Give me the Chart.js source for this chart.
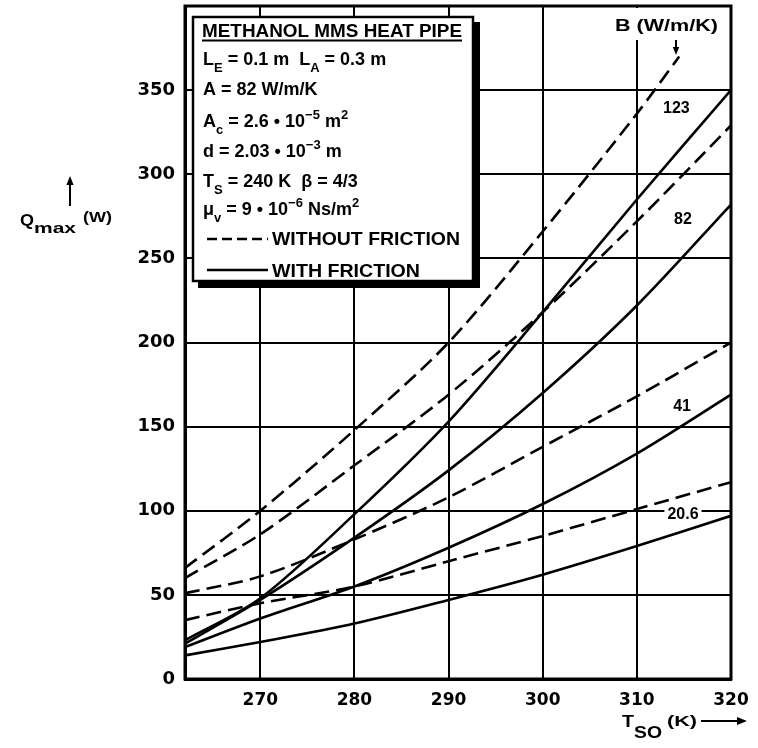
<!DOCTYPE html>
<html>
<head>
<meta charset="utf-8">
<script src="https://cdn.jsdelivr.net/npm/chart.js@4/dist/chart.umd.min.js"></script>
<style>
  html, body { margin: 0; padding: 0; background: #fff; }
  canvas { display: block; }
</style>
</head>
<body>
<canvas id="chart" width="758" height="748"></canvas>
<script>
// Axis ticks
const tempTicks = [270, 280, 290, 300, 310, 320];
const powerTicks = [0, 50, 100, 150, 200, 250, 300, 350, 400];

// Vapour-side temperature T_SO (K) at which the curves are sampled
const tSo = [262, 270, 280, 290, 300, 310, 320];
const tSo123Ideal = [262, 270, 280, 290, 300, 310, 314.5];

// Q_max (W) for each conductance B, without (ideal) and with vapour friction
const q123Ideal    = [66, 100, 148, 200, 266, 336, 370];
const q123Friction = [23, 48, 98, 153, 218, 285, 350];
const q82Ideal     = [60, 86, 127, 169, 218, 272, 329];
const q82Friction  = [21, 47, 84, 124, 170, 222, 282];
const q41Ideal     = [51, 61, 83, 108, 138, 168, 200];
const q41Friction  = [19, 36, 55, 78, 104, 134, 169];
const q20Ideal     = [35, 45, 55, 70, 85, 101, 117];
const q20Friction  = [14, 22, 33, 47, 62, 79, 97];

const bLabels = ['123', '82', '41', '20.6'];
// where each B label sits, in (T_SO, Q_max) units
const bLabelAt = [[314.2, 339], [314.9, 273], [314.8, 162], [314.9, 98]];

const FONT = '"Liberation Sans", Arial, Helvetica, sans-serif';
const DASH = [15, 7];

function curve(xs, ys, dashed) {
  return {
    data: xs.map((x, i) => ({ x: x, y: ys[i] })),
    borderColor: '#000',
    borderWidth: 2.6,
    borderDash: dashed ? DASH : [],
    pointRadius: 0,
    tension: 0.3,
    fill: false
  };
}

// Text made of normal / subscript / superscript runs, left-aligned at baseline y
function richText(ctx, x, y, parts, size) {
  let cx = x;
  for (const [t, m] of parts) {
    const s = m === 'n' ? size : Math.round(size * 0.72);
    ctx.font = 'bold ' + s + 'px ' + FONT;
    const dy = m === 'sub' ? size * 0.38 : (m === 'sup' ? -size * 0.42 : 0);
    ctx.fillText(t, cx, y + dy);
    cx += ctx.measureText(t).width;
  }
  return cx;
}

// Text squeezed or stretched horizontally to a given width
function fitText(ctx, text, x, y, width, size) {
  ctx.font = 'bold ' + size + 'px ' + FONT;
  const w = ctx.measureText(text).width;
  ctx.save();
  ctx.translate(x, y);
  ctx.scale(width / w, 1);
  ctx.fillText(text, 0, 0);
  ctx.restore();
}

function arrow(ctx, x1, y1, x2, y2, head) {
  const a = Math.atan2(y2 - y1, x2 - x1);
  ctx.beginPath();
  ctx.moveTo(x1, y1);
  ctx.lineTo(x2 - Math.cos(a) * head * 0.8, y2 - Math.sin(a) * head * 0.8);
  ctx.stroke();
  ctx.beginPath();
  ctx.moveTo(x2, y2);
  ctx.lineTo(x2 - Math.cos(a) * head + Math.sin(a) * head * 0.4, y2 - Math.sin(a) * head - Math.cos(a) * head * 0.4);
  ctx.lineTo(x2 - Math.cos(a) * head - Math.sin(a) * head * 0.4, y2 - Math.sin(a) * head + Math.cos(a) * head * 0.4);
  ctx.closePath();
  ctx.fill();
}

const decor = {
  id: 'decor',
  beforeDatasetsDraw(chart) {
    const ctx = chart.ctx;
    const xs = chart.scales.x, ys = chart.scales.y;
    ctx.save();
    // header for the B labels, on a white patch over the grid
    ctx.fillStyle = '#fff';
    ctx.fillRect(606, 8, 120, 32);
    ctx.fillStyle = '#000';
    ctx.textBaseline = 'alphabetic';
    fitText(ctx, 'B (W/m/K)', 615, 31, 103, 16);
    ctx.strokeStyle = '#000';
    ctx.lineWidth = 2;
    arrow(ctx, 676, 40, 676, 55, 8);

    // B value next to each pair of curves
    ctx.font = 'bold 16px ' + FONT;
    ctx.textAlign = 'center';
    ctx.textBaseline = 'middle';
    bLabels.forEach((t, i) => {
      const px = xs.getPixelForValue(bLabelAt[i][0]);
      const py = ys.getPixelForValue(bLabelAt[i][1]);
      const w = ctx.measureText(t).width;
      ctx.fillStyle = '#fff';
      ctx.fillRect(px - w / 2 - 3, py - 8, w + 6, 16);
      ctx.fillStyle = '#000';
      ctx.fillText(t, px, py);
    });
    ctx.restore();
  },
  afterDraw(chart) {
    const ctx = chart.ctx;
    const a = chart.chartArea;
    ctx.save();
    ctx.strokeStyle = '#000';
    ctx.fillStyle = '#000';

    // plot frame
    ctx.lineWidth = 3;
    ctx.strokeRect(a.left, a.top, a.right - a.left, a.bottom - a.top);

    // parameter box with its drop shadow
    const bx = 193, by = 17, bw = 280, bh = 264;
    ctx.fillRect(bx + 5, by + 5, bw + 2, bh + 2);
    ctx.fillStyle = '#fff';
    ctx.fillRect(bx, by, bw, bh);
    ctx.lineWidth = 2.5;
    ctx.strokeRect(bx, by, bw, bh);
    ctx.fillStyle = '#000';
    ctx.textAlign = 'left';
    ctx.textBaseline = 'alphabetic';

    fitText(ctx, 'METHANOL MMS HEAT PIPE', 202, 37, 260, 18);
    ctx.lineWidth = 2;
    ctx.beginPath();
    ctx.moveTo(202, 40.5);
    ctx.lineTo(462, 40.5);
    ctx.stroke();

    const S = 18;
    richText(ctx, 203, 65, [['L', 'n'], ['E', 'sub'], [' = 0.1 m  L', 'n'], ['A', 'sub'], [' = 0.3 m', 'n']], S);
    richText(ctx, 203, 95, [['A = 82 W/m/K', 'n']], S);
    richText(ctx, 203, 127, [['A', 'n'], ['c', 'sub'], [' = 2.6 \u2022 10', 'n'], ['\u22125', 'sup'], [' m', 'n'], ['2', 'sup']], S);
    richText(ctx, 203, 157, [['d = 2.03 \u2022 10', 'n'], ['\u22123', 'sup'], [' m', 'n']], S);
    richText(ctx, 203, 187, [['T', 'n'], ['S', 'sub'], [' = 240 K  \u03B2 = 4/3', 'n']], S);
    richText(ctx, 203, 215, [['\u03BC', 'n'], ['v', 'sub'], [' = 9 \u2022 10', 'n'], ['\u22126', 'sup'], [' Ns/m', 'n'], ['2', 'sup']], S);

    // line-style key
    ctx.lineWidth = 2.6;
    ctx.setLineDash([10, 5]);
    ctx.beginPath();
    ctx.moveTo(207, 239);
    ctx.lineTo(268, 239);
    ctx.stroke();
    ctx.setLineDash([]);
    ctx.beginPath();
    ctx.moveTo(207, 270);
    ctx.lineTo(268, 270);
    ctx.stroke();
    fitText(ctx, 'WITHOUT FRICTION', 272, 245, 188, 18);
    fitText(ctx, 'WITH FRICTION', 272, 277, 148, 18);

    // y axis title
    ctx.lineWidth = 2;
    arrow(ctx, 70, 206, 70, 176, 9);
    fitText(ctx, 'Q', 20, 226, 14, 17);
    fitText(ctx, 'max', 34, 233, 42, 15);
    fitText(ctx, '(W)', 83, 222, 29, 14);

    // x axis title
    fitText(ctx, 'T', 622, 727, 12, 17);
    fitText(ctx, 'SO', 634, 738, 28, 16);
    fitText(ctx, '(K)', 667, 726, 30, 14);
    arrow(ctx, 701, 721, 747, 721, 10);

    ctx.restore();
  }
};

new Chart(document.getElementById('chart'), {
  type: 'line',
  data: {
    datasets: [
      curve(tSo123Ideal, q123Ideal, true),
      curve(tSo, q123Friction, false),
      curve(tSo, q82Ideal, true),
      curve(tSo, q82Friction, false),
      curve(tSo, q41Ideal, true),
      curve(tSo, q41Friction, false),
      curve(tSo, q20Ideal, true),
      curve(tSo, q20Friction, false)
    ]
  },
  options: {
    responsive: false,
    animation: false,
    events: [],
    layout: { padding: { top: 6, right: 27, left: 0, bottom: 0 } },
    plugins: { legend: { display: false }, tooltip: { enabled: false } },
    scales: {
      x: {
        type: 'linear',
        min: 262,
        max: 320,
        afterBuildTicks: s => { s.ticks = tempTicks.map(v => ({ value: v })); },
        afterFit: s => { s.height = 69; s.paddingLeft = 0; s.paddingRight = 0; },
        grid: { color: '#000', lineWidth: 2, drawTicks: false },
        border: { display: true, color: '#000', width: 3 },
        ticks: {
          color: '#000',
          padding: 11,
          font: { family: '"DejaVu Sans", sans-serif', weight: 'bold', size: 17 },
          callback: v => String(v)
        }
      },
      y: {
        type: 'linear',
        min: 0,
        max: 400,
        afterBuildTicks: s => { s.ticks = powerTicks.map(v => ({ value: v })); },
        afterFit: s => { s.width = 185; s.paddingTop = 0; s.paddingBottom = 0; },
        grid: { color: '#000', lineWidth: 2, drawTicks: false },
        border: { display: true, color: '#000', width: 3 },
        ticks: {
          color: '#000',
          padding: 10,
          font: { family: '"DejaVu Sans", sans-serif', weight: 'bold', size: 18 },
          callback: v => (v === 400 ? '' : String(v))
        }
      }
    }
  },
  plugins: [decor]
});
</script>
</body>
</html>
